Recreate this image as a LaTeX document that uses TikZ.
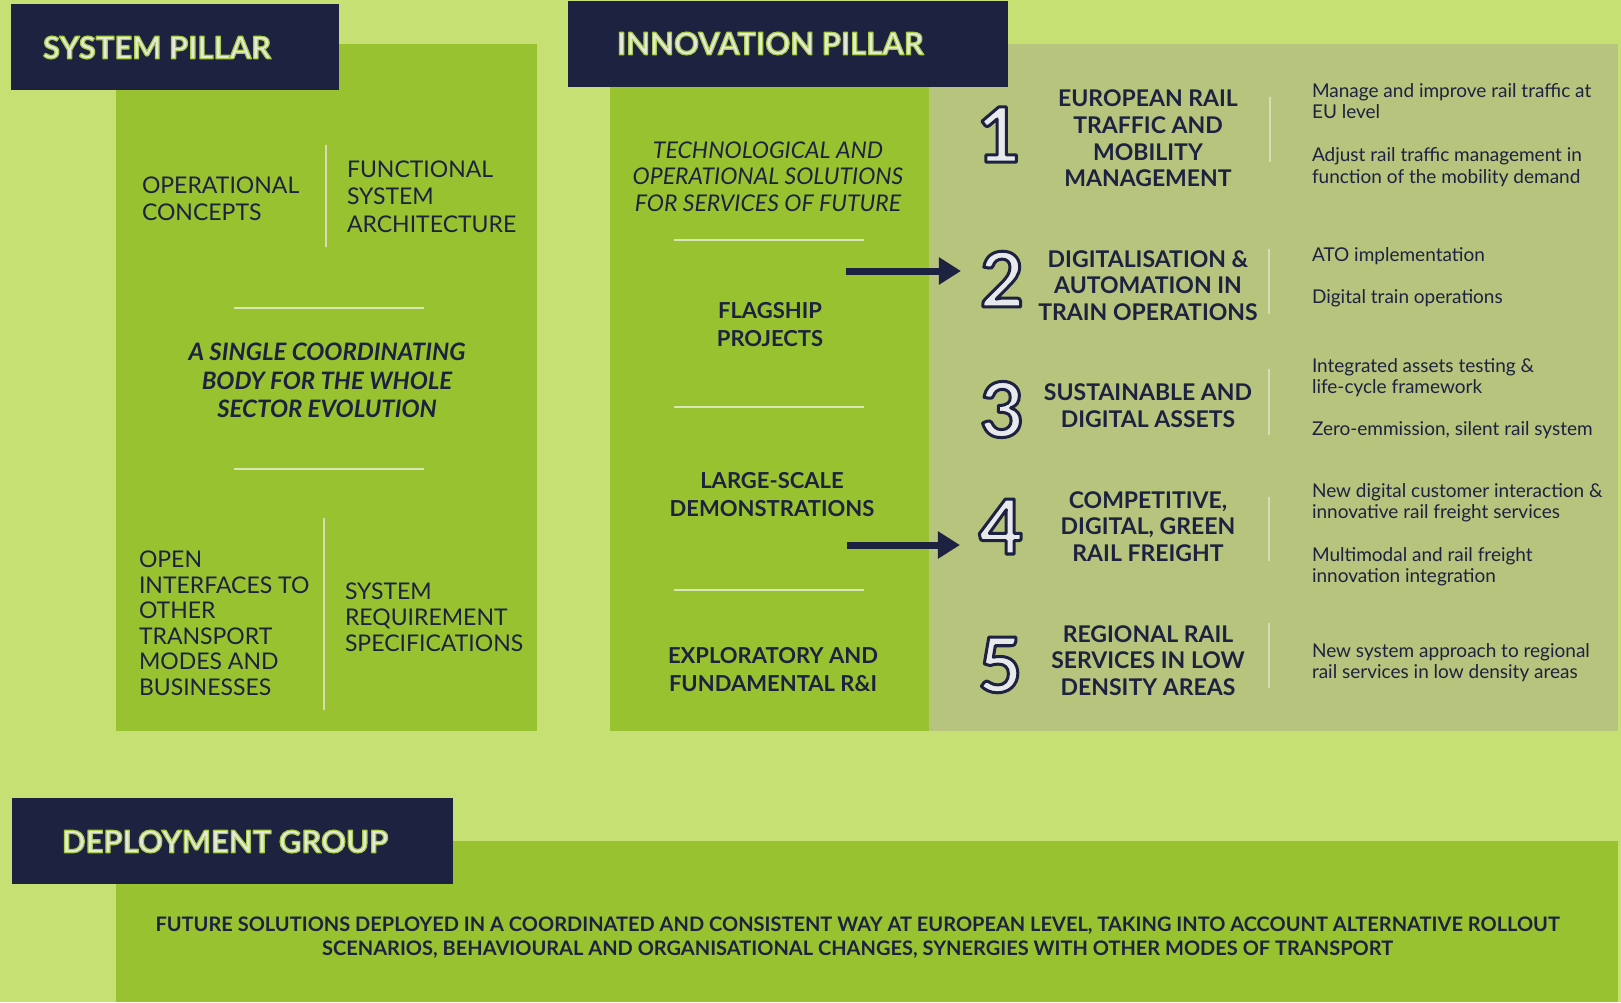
\documentclass[tikz,border=0pt]{standalone}
\usepackage{fontspec}
\setmainfont{Lato}
\usetikzlibrary{arrows.meta}
\definecolor{bglight}{HTML}{C6E074}
\definecolor{midgreen}{HTML}{98C230}
\definecolor{olivep}{HTML}{B7C47D}
\definecolor{navy}{HTML}{1C2240}
\definecolor{sepcol}{HTML}{D9E6B5}
\definecolor{divcol}{HTML}{D6DDB4}
\definecolor{titletext}{HTML}{E6E8DC}
\definecolor{numfill}{HTML}{E8E9EC}
\newcommand{\numtxt}[1]{\special{pdf:literal direct 0.11 0.133 0.25 RG 1.5 w 1 j 2 Tr}#1\special{pdf:literal direct 0 Tr}}
\newcommand{\ttltxt}[1]{\special{pdf:literal direct 0.66 0.8 0.27 RG 0.6 w 1 j 2 Tr}#1\special{pdf:literal direct 0 Tr}}
\begin{document}
\begin{tikzpicture}[x=0.5pt,y=-0.5pt,
  every node/.style={inner sep=0pt, outer sep=0pt, text=navy},
  titlelbl/.style={anchor=west, text=titletext, font=\fontsize{15.5}{18}\selectfont\bfseries},
  spbody/.style={anchor=west, align=left, font=\fontsize{11.5}{13.75}\selectfont},
  spbold/.style={align=center, font=\fontsize{12}{14.25}\selectfont\bfseries\itshape},
  techlbl/.style={align=center, font=\fontsize{11.5}{13.25}\selectfont\itshape},
  collbl/.style={align=center, font=\fontsize{11}{14}\selectfont\bfseries},
  rowlbl/.style={align=center, font=\fontsize{11.5}{13.3}\selectfont\bfseries},
  desc/.style={anchor=north west, align=left, font=\fontsize{9.5}{10.5}\selectfont},
  numlbl/.style={text=numfill, font=\fontsize{38}{40}\selectfont\bfseries},
  deplbl/.style={align=center, font=\fontsize{10}{12}\selectfont\bfseries},
  sepline/.style={draw=sepcol, line width=1pt},
  divline/.style={draw=divcol, line width=1pt},
  arr/.style={draw=navy, line width=3.5pt, -{Triangle[length=11pt,width=13pt]}, shorten >=9.5pt}
]
\useasboundingbox (0,0) rectangle (1621,1002);
\fill[bglight] (0,0) rectangle (1621,1002);

% ---------- panels ----------
\fill[midgreen] (116,44) rectangle (537,731);
\fill[midgreen] (610,44) rectangle (929,731);
\fill[olivep] (929,44) rectangle (1618,731);
\fill[midgreen] (116,841) rectangle (1618,1002);
\fill[navy] (11,4) rectangle (339,90);
\fill[navy] (568,1) rectangle (1008,87);
\fill[navy] (12,798) rectangle (453,884);

% ---------- titles ----------
\node[titlelbl] (sptitle) at (43,47.5) {\ttltxt{SYSTEM PILLAR}};
\node[titlelbl] (iptitle) at (617,43.5) {\ttltxt{INNOVATION PILLAR}};
\node[titlelbl] (dgtitle) at (62,841.5) {\ttltxt{DEPLOYMENT GROUP}};

% ---------- system pillar ----------
\node[spbody] (opc) at (142,199) {OPERATIONAL\\CONCEPTS};
\node[spbody] (fsa) at (347,196.5) {FUNCTIONAL\\SYSTEM\\ARCHITECTURE};
\draw[divline] (326,145) -- (326,247);
\draw[sepline] (234,308) -- (424,308);
\node[spbold] (single) at (327,380.5) {A SINGLE COORDINATING\\BODY FOR THE WHOLE\\SECTOR EVOLUTION};
\draw[sepline] (234,469) -- (424,469);
\node[spbody, font=\fontsize{11.5}{12.75}\selectfont] (oit) at (139,623.5) {OPEN\\INTERFACES TO\\OTHER\\TRANSPORT\\MODES AND\\BUSINESSES};
\draw[divline] (324,518) -- (324,710);
\node[spbody, font=\fontsize{11.5}{13}\selectfont] (srs) at (345,617) {SYSTEM\\REQUIREMENT\\SPECIFICATIONS};

% ---------- innovation pillar column ----------
\node[techlbl] (tech) at (768,176.5) {TECHNOLOGICAL AND\\OPERATIONAL SOLUTIONS\\FOR SERVICES OF FUTURE};
\draw[sepline] (674,240) -- (864,240);
\node[collbl] (flag) at (770,325) {FLAGSHIP\\PROJECTS};
\draw[sepline] (674,407) -- (864,407);
\node[collbl] (large) at (772,494.5) {LARGE-SCALE\\DEMONSTRATIONS};
\draw[sepline] (674,590) -- (864,590);
\node[collbl] (explo) at (773,669.5) {EXPLORATORY AND\\FUNDAMENTAL R\&I};

% ---------- numbered rows ----------
\node[numlbl] (n1) at (999,134.5) {\numtxt{1}};
\node[numlbl] (n2) at (1002,279) {\numtxt{2}};
\node[numlbl] (n3) at (1002,409.5) {\numtxt{3}};
\node[numlbl] (n4) at (1001,526.5) {\numtxt{4}};
\node[numlbl] (n5) at (1000,665) {\numtxt{5}};

\node[rowlbl] (r1) at (1148,138.5) {EUROPEAN RAIL\\TRAFFIC AND\\MOBILITY\\MANAGEMENT};
\node[rowlbl] (r2) at (1148,285.5) {DIGITALISATION \&\\AUTOMATION IN\\TRAIN OPERATIONS};
\node[rowlbl] (r3) at (1148,405.5) {SUSTAINABLE AND\\DIGITAL ASSETS};
\node[rowlbl] (r4) at (1148,526.5) {COMPETITIVE,\\DIGITAL, GREEN\\RAIL FREIGHT};
\node[rowlbl] (r5) at (1148,660.5) {REGIONAL RAIL\\SERVICES IN LOW\\DENSITY AREAS};

\draw[divline] (1270,97) -- (1270,162);
\draw[divline] (1269,249) -- (1269,314);
\draw[divline] (1269,369) -- (1269,435);
\draw[divline] (1269,497) -- (1269,561);
\draw[divline] (1269,623) -- (1269,688);

\node[desc] (d1a) at (1312,84) {Manage and improve rail traffic at\\EU level};
\node[desc] (d1b) at (1312,148) {Adjust rail traffic management in\\function of the mobility demand};
\node[desc] (d2a) at (1312,247) {ATO implementation};
\node[desc] (d2b) at (1312,289) {Digital train operations};
\node[desc] (d3a) at (1312,358) {Integrated assets testing \&\\life-cycle framework};
\node[desc] (d3b) at (1312,421) {Zero-emmission, silent rail system};
\node[desc] (d4a) at (1312,483) {New digital customer interaction \&\\innovative rail freight services};
\node[desc] (d4b) at (1312,547) {Multimodal and rail freight\\innovation integration};
\node[desc] (d5a) at (1312,643) {New system approach to regional\\rail services in low density areas};

% ---------- arrows ----------
\coordinate (a1) at (846,271);
\coordinate (a2) at (847,545);
\draw[arr] (a1) -- (a1 -| n2.west);
\draw[arr] (a2) -- (a2 -| n4.west);

% ---------- deployment ----------
\node[deplbl] (dep) at (857.5,937.5) {FUTURE SOLUTIONS DEPLOYED IN A COORDINATED AND CONSISTENT WAY AT EUROPEAN LEVEL, TAKING INTO ACCOUNT ALTERNATIVE ROLLOUT\\SCENARIOS, BEHAVIOURAL AND ORGANISATIONAL CHANGES, SYNERGIES WITH OTHER MODES OF TRANSPORT};
\end{tikzpicture}
\end{document}
